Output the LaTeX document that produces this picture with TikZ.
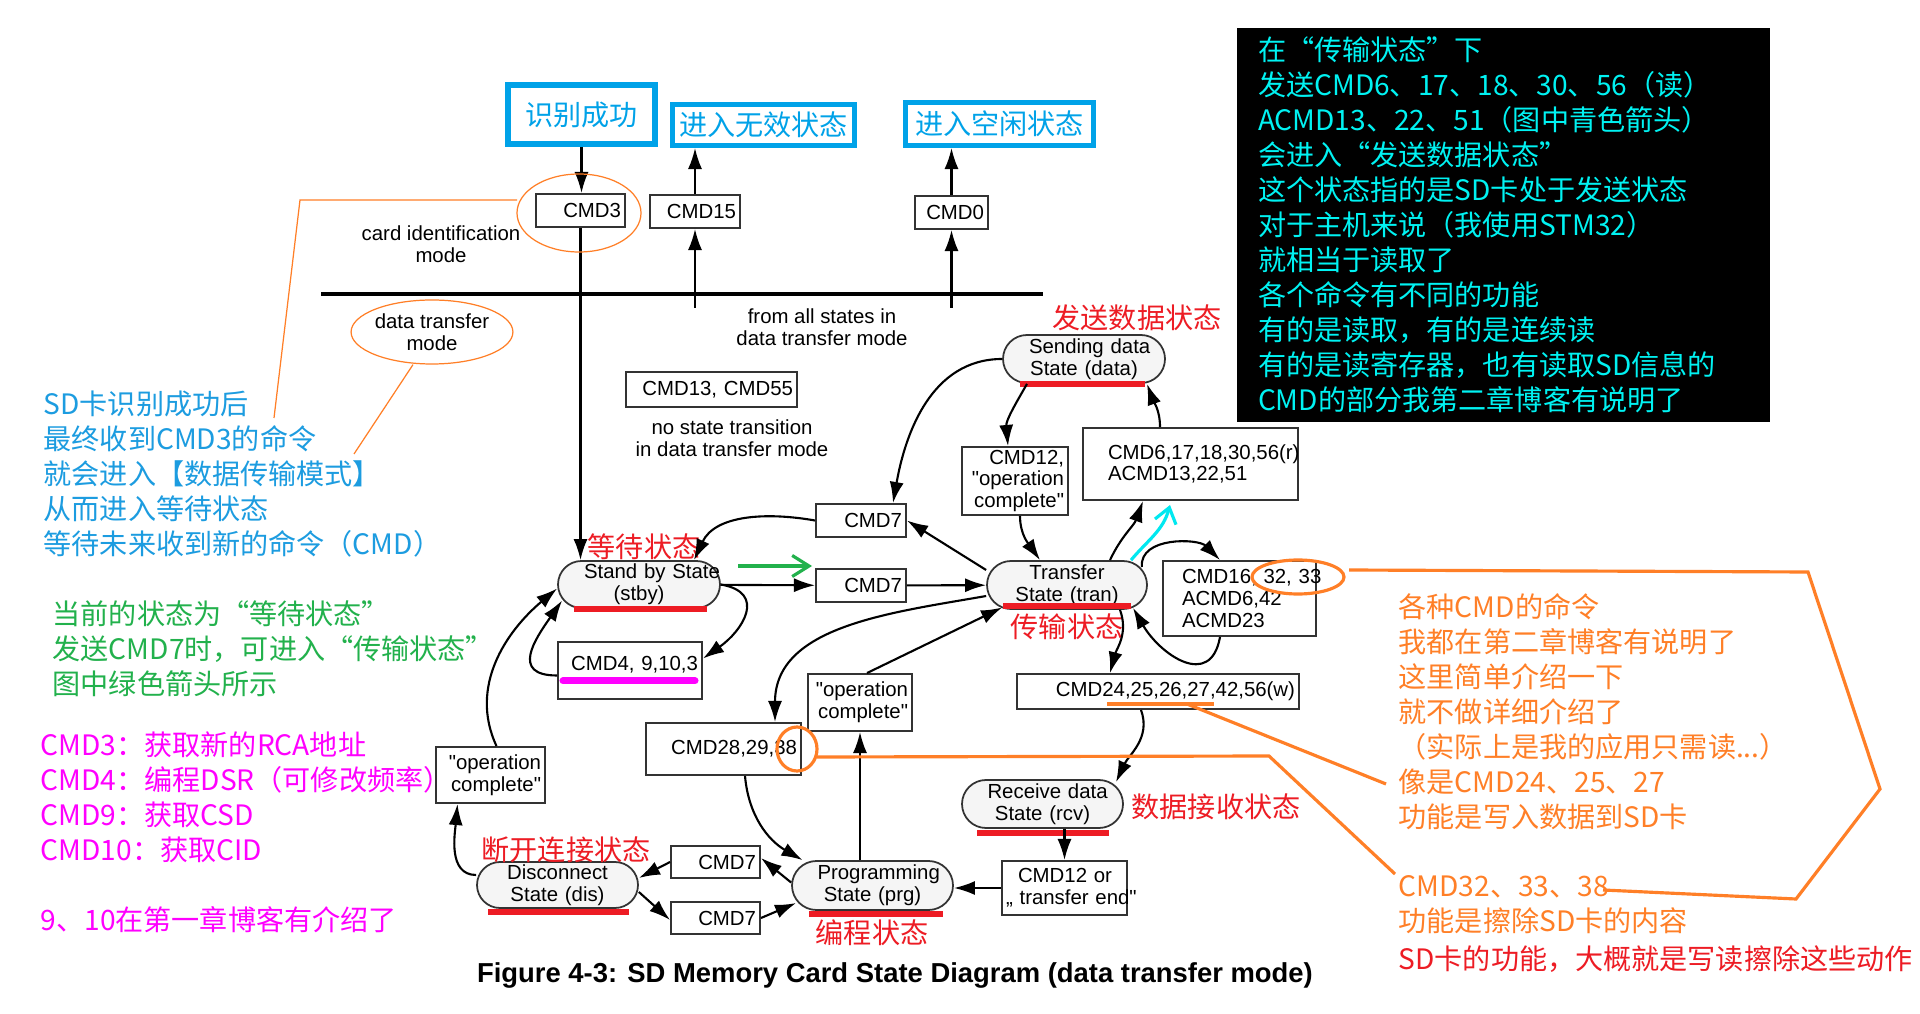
\documentclass[tikz,border=0pt]{standalone}
\usepackage{fontspec}
\setmainfont{Liberation Sans}[Ligatures=TeXOff]
\newfontfamily\cjk{Noto Sans CJK SC}
\usetikzlibrary{arrows.meta,shapes.misc,shapes.geometric}

\definecolor{markred}{HTML}{ED1C24}
\definecolor{markorange}{HTML}{FF7F27}
\definecolor{markgreen}{HTML}{22B14C}
\definecolor{markpink}{HTML}{FF00FF}
\definecolor{boxblue}{HTML}{00A2E8}
\definecolor{noteblue}{HTML}{1C9CE0}
\definecolor{readcyan}{HTML}{00F2F2}
\definecolor{arrowcyan}{HTML}{00E8F0}

\newcommand\diagfont{\fontsize{5.8}{6.2}\selectfont}
\newcommand\cnnote{\cjk\fontsize{8}{9.96}\selectfont}

\tikzset{
	statenode/.style={rounded rectangle, draw=black!80, fill=black!4, line width=0.5pt, inner sep=0pt, text width=1.1cm, align=center, minimum width=1.61cm, minimum height=0.48cm, font=\diagfont},
	cmdbox/.style={draw=black!80, line width=0.55pt, inner xsep=0.04cm, inner ysep=0pt, align=right, minimum height=0.33cm, font=\diagfont},
	bluebox/.style={draw=boxblue, line width=1.4pt, text=boxblue, inner sep=0pt, font=\cnnote},
	statetag/.style={text=markred, inner sep=0pt, font=\cnnote},
	notetext/.style={anchor=west, align=left, inner sep=0pt, font=\cnnote},
	redbar/.style={draw=markred, line width=1.8pt},
	hilite/.style={draw=markorange, line width=0.9pt},
	hairhilite/.style={draw=markorange, line width=0.35pt},
	flow/.style={line width=0.6pt, -{Latex[length=6pt,width=4pt]}}
}

\begin{document}
\begin{tikzpicture}
		\fill[white] (0,0) rectangle (19.2,-10.14);
		\useasboundingbox (0,0) rectangle (19.2,-10.14);
		% Boxes above the mode line
		\node[bluebox, line width=1.7pt, minimum width=1.47cm, minimum height=0.59cm] (found) at (5.815,-1.145) {识别成功};
		\node[bluebox, minimum width=1.82cm, minimum height=0.41cm] (inactive) at (7.635,-1.25) {进入无效状态};
		\node[bluebox, minimum width=1.88cm, minimum height=0.43cm] (idle) at (9.995,-1.24) {进入空闲状态};
		\node[cmdbox, text width=0.81cm] (cmdthree) at (5.805,-2.105) {CMD3};
		\node[cmdbox, text width=0.82cm] (cmdfifteen) at (6.95,-2.115) {CMD15};
		\node[cmdbox, text width=0.65cm] (cmdzero) at (9.515,-2.125) {CMD0};
		\coordinate (fifteenfoot) at (6.95,-3.08);
		\coordinate (zerofoot) at (9.515,-3.08);
		% Mode line and the texts round it
		\draw[line width=0.9pt] (3.21,-2.94) -- (10.43,-2.94);
		\node[font=\diagfont, align=center] (cardmode) at (4.41,-2.44) {card identification\\mode};
		\node[ellipse, draw=markorange, line width=0.35pt, inner sep=0pt, minimum width=1.56cm, minimum height=0.64cm, font=\diagfont, align=center] (datamode) at (4.32,-3.32) {data transfer\\mode};
		\node[font=\diagfont, align=center] (allstates) at (8.22,-3.27) {from all states in\\data transfer mode};
		\node[cmdbox, text width=1.63cm, minimum height=0.35cm] (cmdthirteen) at (7.115,-3.895) {\mbox{CMD13, CMD55}};
		\node[font=\diagfont, align=center] (nochange) at (7.32,-4.38) {no state transition\\in data transfer mode};
		% States
		\node[statenode, minimum width=1.62cm, minimum height=0.47cm] (stby) at (6.39,-5.845) {\mbox{Stand by State}\\(stby)};
		\node[statenode, minimum width=1.60cm] (tran) at (10.67,-5.85) {Transfer\\\mbox{State (tran)}};
		\node[statenode, minimum width=1.62cm] (data) at (10.84,-3.59) {\mbox{Sending data}\\\mbox{State (data)}};
		\node[statenode] (rcv) at (10.425,-8.04) {\mbox{Receive data}\\\mbox{State (rcv)}};
		\node[statenode, minimum height=0.49cm] (prg) at (8.725,-8.855) {Programming\\\mbox{State (prg)}};
		\node[statenode, minimum height=0.46cm] (dis) at (5.575,-8.85) {Disconnect\\\mbox{State (dis)}};
		% Command boxes
		\node[cmdbox, text width=0.82cm] (cmdsevenup) at (8.61,-5.205) {CMD7};
		\node[cmdbox, text width=0.82cm] (cmdsevenlo) at (8.61,-5.855) {CMD7};
		\node[cmdbox, text width=1.36cm, minimum height=0.57cm, text height=0.2cm, text depth=0.2cm] (cmdfour) at (6.30,-6.705) {\mbox{CMD4, 9,10,3}};
		\node[cmdbox, text width=1.01cm, minimum height=0.56cm] (opleft) at (4.905,-7.75) {"operation\\complete"};
		\node[cmdbox, text width=1.47cm, minimum height=0.52cm] (cmdtweight) at (7.235,-7.49) {CMD28,29,38};
		\node[cmdbox, text width=0.96cm, minimum height=0.57cm] (opmid) at (8.60,-7.025) {"operation\\complete"};
		\node[cmdbox, text width=0.98cm, minimum height=0.68cm] (cmdtwelve) at (10.15,-4.81) {CMD12,\\"operation\\complete"};
		\node[cmdbox, align=left, inner xsep=0.25cm, text width=1.65cm, minimum height=0.72cm] (cmdsix) at (11.905,-4.64) {CMD6,17,18,30,56(r)\\ACMD13,22,51};
		\node[cmdbox, align=left, inner xsep=0.19cm, text width=1.15cm, minimum height=0.75cm] (cmdsixteen) at (12.395,-5.985) {\mbox{CMD16, 32, 33}\\ACMD6,42\\ACMD23};
		\node[cmdbox, text width=2.74cm, minimum height=0.35cm] (cmdtwentyfour) at (11.58,-6.915) {CMD24,25,26,27,42,56(w)};
		\node[cmdbox, text width=0.81cm, minimum height=0.32cm] (cmdsevdis) at (7.155,-8.62) {CMD7};
		\node[cmdbox, text width=0.81cm, minimum height=0.32cm] (cmdsevprg) at (7.155,-9.18) {CMD7};
		\node[cmdbox, align=left, text width=1.17cm, minimum height=0.54cm] (cmdtwelveor) at (10.645,-8.88) {\hspace*{0.12cm}\mbox{CMD12 or}\\\mbox{„ transfer end"}};
		% Red marks and names of the states
		\draw[redbar] ([xshift=-0.65cm]stby.south) -- ([xshift=0.68cm]stby.south);
		\draw[redbar] ([xshift=-0.64cm,yshift=0.04cm]tran.south) -- ([xshift=0.64cm,yshift=0.04cm]tran.south);
		\draw[redbar] ([xshift=-0.64cm]data.south) -- ([xshift=0.61cm]data.south);
		\draw[redbar] ([xshift=-0.655cm,yshift=-0.04cm]rcv.south) -- ([xshift=0.665cm,yshift=-0.04cm]rcv.south);
		\draw[redbar] ([xshift=-0.635cm,yshift=-0.03cm]prg.south) -- ([xshift=0.705cm,yshift=-0.03cm]prg.south);
		\draw[redbar] ([xshift=-0.695cm,yshift=-0.03cm]dis.south) -- ([xshift=0.715cm,yshift=-0.03cm]dis.south);
		\draw[markpink, line width=2pt, line cap=round] ([xshift=-0.67cm,yshift=0.19cm]cmdfour.south) -- ([xshift=0.65cm,yshift=0.19cm]cmdfour.south);
		\node[statetag] (stbytag) at (6.44,-5.47) {等待状态};
		\node[statetag] (datatag) at (11.37,-3.18) {发送数据状态};
		\node[statetag] (trantag) at (10.67,-6.27) {传输状态};
		\node[statetag] (rcvtag) at (12.16,-8.07) {数据接收状态};
		\node[statetag] (distag) at (5.66,-8.50) {断开连接状态};
		\node[statetag] (prgtag) at (8.72,-9.33) {编程状态};
		% Straight transitions
		\draw[flow] (found.south) -- (found.south |- cmdthree.north);
		\draw[flow] (cmdthree.south) -- (cmdthree.south |- stby.north);
		\draw[flow] (fifteenfoot) -- (cmdfifteen.south);
		\draw[flow] (cmdfifteen.north) -- (cmdfifteen.north |- inactive.south);
		\draw[flow] (zerofoot) -- (cmdzero.south);
		\draw[flow] (cmdzero.north) -- (cmdzero.north |- idle.south);
		\draw[flow] (stby) -- (cmdsevenlo);
		\draw[flow] (cmdsevenlo) -- (tran);
		\draw[flow] ([yshift=0.15cm]tran.west) -- (cmdsevenup.east);
		\draw[flow] (cmdsevdis.west) -- ([yshift=0.07cm]dis.east);
		\draw[flow] ([yshift=-0.07cm]dis.east) -- ([yshift=-0.02cm]cmdsevprg.west);
		\draw[flow] (cmdsevprg.east) -- ([xshift=0.05cm,yshift=-0.175cm]prg.west);
		\draw[flow] ([yshift=0.03cm]prg.west) -- ([yshift=0.04cm]cmdsevdis.east);
		\draw[flow] (opmid.south |- prg.north) -- (opmid.south);
		\draw[flow] ([xshift=0.07cm]opmid.north) -- ([xshift=0.16cm,yshift=-0.225cm]tran.west);
		\draw[flow] (cmdtwelveor.north |- rcv.south) -- (cmdtwelveor.north);
		\draw[flow] (cmdtwelveor.west) -- (cmdtwelveor.west -| prg.east);
		% Curved transitions
		\draw[flow] (cmdsevenup.west) to [out=170,in=65] ([xshift=0.55cm]stby.north);
		\draw[flow] (data.west) to [out=180,in=80] ([xshift=0.32cm]cmdsevenup.north);
		\draw[flow] (stby.east) to [out=-10,in=35,looseness=1.6] ([yshift=0.12cm]cmdfour.east);
		\draw[flow] ([yshift=-0.05cm]cmdfour.west) to [out=180,in=235,looseness=1.6] ([xshift=0.05cm,yshift=-0.16cm]stby.west);
		\draw[flow] ([xshift=0.06cm]opleft.north) to [out=115,in=220] ([yshift=-0.04cm]stby.west);
		\draw[flow] ([yshift=0.1cm]dis.west) to [out=180,in=265] ([xshift=-0.33cm]opleft.south);
		\draw[flow] ([xshift=0.215cm]cmdtweight.south) to [out=-85,in=150] ([xshift=-0.7cm]prg.north);
		\draw[flow] ([yshift=-0.11cm]tran.west) to [out=190,in=90] ([xshift=0.515cm]cmdtweight.north);
		\draw[flow] ([xshift=-0.57cm]data.south) to [out=240,in=95] ([xshift=-0.07cm]cmdtwelve.north);
		\draw[flow] ([xshift=0.05cm]cmdtwelve.south) to [out=-90,in=125] ([xshift=-0.27cm]tran.north);
		\draw[flow] ([xshift=0.43cm]tran.north) to [out=65,in=-110] ([xshift=-0.475cm]cmdsix.south);
		\draw[flow] ([xshift=-0.305cm]cmdsix.north) to [out=90,in=-70] ([xshift=0.63cm]data.south);
		\draw[flow] ([xshift=-0.06cm,yshift=0.18cm]tran.east) to [out=95,in=135] ([xshift=-0.195cm]cmdsixteen.north);
		\draw[flow] ([xshift=-0.195cm]cmdsixteen.south) to [out=-100,in=-60,looseness=1.5] ([xshift=0.66cm,yshift=0.02cm]tran.south);
		\draw[flow] ([xshift=0.53cm]tran.south) to [out=-70,in=75] ([xshift=-0.48cm]cmdtwentyfour.north);
		\draw[flow] ([xshift=-0.17cm]cmdtwentyfour.south) to [out=-70,in=65] ([xshift=0.735cm,yshift=-0.03cm]rcv.north);
		% Coloured arrows added on top
		\coordinate (greenfrom) at (7.38,-5.66);
		\coordinate (greento) at (8.12,-5.66);
		\draw[markgreen, line width=0.9pt, -{Straight Barb[length=4.8pt,width=6pt]}] (greenfrom) -- (greento);
		\coordinate (cyantip) at (11.70,-5.05);
		\draw[arrowcyan, line width=0.9pt, -{Straight Barb[length=4.2pt,width=6.2pt]}] ([xshift=0.64cm]tran.north) to [out=50,in=-105] (cyantip);
		% Orange rings and pointers
		\draw[hairhilite] (5.79,-2.13) ellipse [x radius=0.62, y radius=0.39];
		\draw[hairhilite] (5.17,-2.00) -- (3.00,-2.00) -- (2.74,-4.18);
		\draw[hairhilite] ([xshift=-0.19cm]datamode.south) -- (3.54,-4.54);
		\draw[hilite] (7.97,-7.49) ellipse [x radius=0.20, y radius=0.22];
		\draw[hilite] (8.17,-7.57) -- (12.69,-7.56) -- (13.95,-8.74);
		\draw[hilite] (12.98,-5.77) ellipse [x radius=0.46, y radius=0.17];
		\draw[hilite] (13.49,-5.70) -- (18.08,-5.72) -- (18.80,-7.89) -- (17.96,-8.99) -- (16.03,-8.90);
		\draw[hilite] (11.07,-7.04) -- (12.14,-7.04);
		\draw[hilite] (11.87,-7.04) -- (13.86,-7.84);
		% Notes
		\node[fill=black, text=readcyan, font=\cnnote, align=left, text width=4.91cm, inner xsep=0.21cm, inner ysep=0pt, minimum height=3.94cm] (readnote) at (15.035,-2.25) {在“传输状态”下\\发送CMD6、17、18、30、56（读）\\ACMD13、22、51（图中青色箭头）\\会进入“发送数据状态”\\这个状态指的是SD卡处于发送状态\\对于主机来说（我使用STM32）\\就相当于读取了\\各个命令有不同的功能\\有的是读取，有的是连续读\\有的是读寄存器，也有读取SD信息的\\CMD的部分我第二章博客有说明了};
		\node[notetext, text=noteblue] (bluenote) at (0.43,-4.745) {SD卡识别成功后\\最终收到CMD3的命令\\就会进入【数据传输模式】\\从而进入等待状态\\等待未来收到新的命令（CMD）};
		\node[notetext, text=markgreen] (greennote) at (0.52,-6.49) {当前的状态为“等待状态”\\发送CMD7时，可进入“传输状态”\\图中绿色箭头所示};
		\node[notetext, text=markpink] (pinknote) at (0.40,-7.97) {CMD3：获取新的RCA地址\\CMD4：编程DSR（可修改频率）\\CMD9：获取CSD\\CMD10：获取CID};
		\node[notetext, text=markpink] (pinkextra) at (0.40,-9.20) {9、10在第一章博客有介绍了};
		\node[notetext, text=markorange] (orangenote) at (13.98,-7.12) {各种CMD的命令\\我都在第二章博客有说明了\\这里简单介绍一下\\就不做详细介绍了\\（实际上是我的应用只需读...）\\像是CMD24、25、27\\功能是写入数据到SD卡};
		\node[notetext, text=markorange] (erasenote) at (13.98,-9.045) {CMD32、33、38\\功能是擦除SD卡的内容};
		\node[notetext, text=markred] (sumnote) at (13.98,-9.59) {SD卡的功能，大概就是写读擦除这些动作};
		\node[font=\bfseries\fontsize{7.8}{9}\selectfont] (caption) at (8.95,-9.75) {Figure 4-3: SD Memory Card State Diagram (data transfer mode)};
\end{tikzpicture}
\end{document}
